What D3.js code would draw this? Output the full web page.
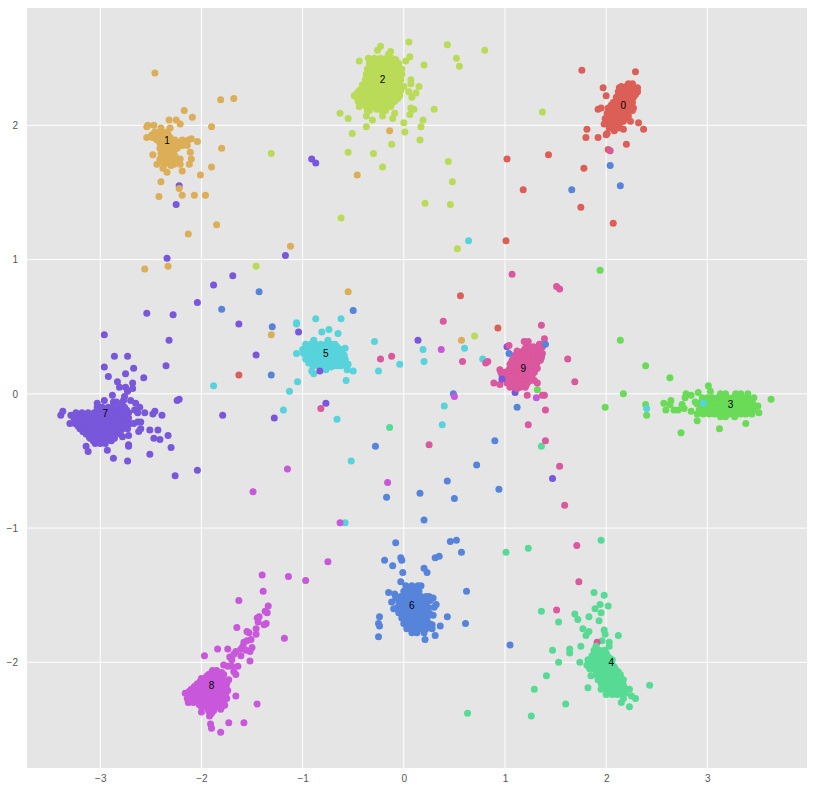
<!DOCTYPE html>
<html><head><meta charset="utf-8">
<script src="https://cdn.jsdelivr.net/npm/d3@7"></script>
<style>html,body{margin:0;padding:0;background:#fff;overflow:hidden}svg{display:block}</style>
</head><body><div id="chart"></div>
<script>
const palette=["#db5f57","#dbae57","#b9db57","#69db57","#57db94","#57d3db","#5784db","#7957db","#c957db","#db579e"];
const xTicks=[-3,-2,-1,0,1,2,3];
const yTicks=[-2,-1,0,1,2];
const labelNames=["0","1","2","3","4","5","6","7","8","9"];
const labelX=[2.17,-2.34,-0.21,3.23,2.05,-0.77,0.08,-2.95,-1.90,1.18];
const labelY=[2.15,1.89,2.34,-0.08,-2.0,0.30,-1.58,-0.15,-2.17,0.19];

const digit0=[[1.76,2.41],[2.29,2.40],[1.97,2.28],[2.00,2.22],[1.92,2.12],[1.95,2.13],[2.32,2.02],[2.24,2.03],[2.17,1.97],[2.37,1.97],[1.81,1.97],[1.80,1.91],[1.92,1.91],[2.00,1.93],[2.01,1.94],[2.08,1.96],[2.20,1.86],[2.02,1.82],[1.43,1.78],[1.78,1.68],[1.75,1.39],[2.07,1.27],[1.02,1.75],[1.18,1.52],[1.01,1.14],[0.56,0.73],[0.93,0.49],[-1.63,0.14],
[2.22,2.31],[2.26,2.31],[2.13,2.28],[2.18,2.28],[2.23,2.28],[2.28,2.28],[2.31,2.28],[2.12,2.25],[2.17,2.25],[2.22,2.25],[2.27,2.25],[2.31,2.25],[2.10,2.21],[2.15,2.21],[2.20,2.21],[2.25,2.21],[2.27,2.21],[2.07,2.17],[2.12,2.17],[2.17,2.17],[2.22,2.17],[2.26,2.17],[2.02,2.13],[2.07,2.13],[2.12,2.13],[2.17,2.13],[2.22,2.13],[2.27,2.13],[2.01,2.09],[2.06,2.09],[2.11,2.09],[2.16,2.09],[2.21,2.09],[2.26,2.11],[1.99,2.05],[2.04,2.05],[2.09,2.05],[2.14,2.05],[2.19,2.05],[1.98,2.01],[2.03,2.01],[2.08,2.01],[2.13,2.01],[2.17,2.03],[2.03,1.98],[2.08,1.98],[2.12,1.98],
[2.15,2.29],[2.20,2.29],[2.25,2.29],[2.14,2.23],[2.19,2.23],[2.24,2.23],[2.29,2.23],[2.12,2.19],[2.17,2.19],[2.22,2.19],[2.25,2.19],[2.05,2.15],[2.10,2.15],[2.15,2.15],[2.20,2.15],[2.25,2.15],[2.03,2.11],[2.08,2.11],[2.13,2.11],[2.18,2.11],[2.23,2.11],[2.02,2.07],[2.07,2.07],[2.12,2.07],[2.17,2.07],[2.22,2.07],[2.01,2.03],[2.06,2.03],[2.11,2.03],[2.15,2.03],[2.05,1.99],[2.10,1.99]];

const digit1=[[-2.46,2.39],[-1.81,2.19],[-1.68,2.20],[-2.17,2.11],[-2.09,2.06],[-2.32,2.04],[-2.25,2.04],[-2.21,2.01],[-1.90,1.99],[-1.80,1.83],[-2.04,1.88],[-2.10,1.90],[-2.11,1.80],[-2.10,1.75],[-2.12,1.71],[-1.90,1.69],[-2.01,1.63],[-2.19,1.66],[-2.40,1.58],[-2.19,1.48],[-2.07,1.48],[-1.96,1.48],[-2.42,1.47],[-1.85,1.26],[-2.13,1.19],[-2.56,0.93],[-2.33,0.95],[-0.14,1.96],[-0.46,1.63],[-1.12,1.10],[-0.55,0.76],[-1.31,0.44],[0.57,0.40],
[-2.54,1.99],[-2.53,2.0],[-2.47,2.0],[-2.54,1.91],[-2.49,1.93],[-2.40,1.98],[-2.31,1.98],[-2.48,1.78],[-2.41,1.75],[-2.44,1.71],[-2.38,1.68],[-2.34,1.65],[-2.30,1.70],[-2.21,1.71],[-2.21,1.75],[-2.19,1.89],[-2.14,1.85],
[-2.46,1.95],[-2.40,1.95],[-2.34,1.95],[-2.48,1.91],[-2.43,1.91],[-2.37,1.91],[-2.31,1.91],[-2.41,1.87],[-2.35,1.87],[-2.29,1.87],[-2.24,1.87],[-2.41,1.83],[-2.36,1.83],[-2.30,1.83],[-2.24,1.83],[-2.40,1.79],[-2.34,1.79],[-2.28,1.79],[-2.36,1.75],[-2.30,1.75],[-2.25,1.75],[-2.37,1.71],[-2.31,1.71],[-2.27,1.71],[-2.19,1.85],[-2.15,1.87],[-2.13,1.89],
[-2.45,1.93],[-2.39,1.93],[-2.33,1.93],[-2.44,1.89],[-2.38,1.89],[-2.32,1.89],[-2.26,1.89],[-2.40,1.85],[-2.34,1.85],[-2.28,1.85],[-2.22,1.85],[-2.39,1.81],[-2.33,1.81],[-2.27,1.81],[-2.38,1.77],[-2.32,1.77],[-2.26,1.77],[-2.39,1.73],[-2.33,1.73],[-2.27,1.73],[-2.23,1.73]];

const digit2=[[-0.23,2.59],[-0.26,2.56],[0.05,2.62],[0.43,2.60],[0.52,2.50],[0.55,2.44],[0.80,2.56],[0.20,2.45],[0.06,2.51],[0.02,2.48],[-0.44,2.48],[0.07,2.34],[0.07,2.31],[0.15,2.29],[0.12,2.24],[0.08,2.21],[0.05,2.25],[0,2.29],[0.30,2.12],[0.10,2.12],[0.07,2.13],[0.06,2.08],[0.19,2.04],[0,2.02],[0.17,1.99],[0.01,1.95],[0.16,1.89],[-0.12,1.86],[-0.11,2.05],[-0.09,2.09],[-0.21,2.07],[-0.31,2.04],[-0.37,2.07],[-0.37,1.99],[-0.55,2.05],[-0.63,2.09],[-0.51,1.94],[-0.55,1.80],[-0.30,1.79],[-0.21,1.69],[0.44,1.73],[0.48,1.58],[0.21,1.42],[0.46,1.41],[-0.62,1.31],[0.53,1.08],[-1.46,0.95],[-1.31,1.79],[1.37,2.10],[0.70,0.43],
[-0.13,2.55],[-0.15,2.53],[-0.35,2.50],[-0.29,2.50],[-0.23,2.50],[-0.17,2.50],[-0.12,2.50],[-0.08,2.49],[-0.34,2.46],[-0.28,2.46],[-0.22,2.46],[-0.16,2.46],[-0.10,2.46],[-0.05,2.46],[-0.36,2.42],[-0.30,2.42],[-0.24,2.42],[-0.18,2.42],[-0.12,2.42],[-0.06,2.42],[-0.02,2.42],[-0.37,2.38],[-0.31,2.38],[-0.25,2.38],[-0.19,2.38],[-0.13,2.38],[-0.07,2.38],[-0.02,2.38],[-0.38,2.34],[-0.32,2.34],[-0.26,2.34],[-0.20,2.34],[-0.14,2.34],[-0.08,2.34],[-0.03,2.34],[-0.41,2.30],[-0.35,2.30],[-0.29,2.30],[-0.23,2.30],[-0.17,2.30],[-0.11,2.30],[-0.05,2.30],[-0.44,2.26],[-0.38,2.26],[-0.32,2.26],[-0.26,2.26],[-0.20,2.26],[-0.14,2.26],[-0.08,2.26],[-0.03,2.26],[-0.49,2.22],[-0.43,2.22],[-0.37,2.22],[-0.31,2.22],[-0.25,2.22],[-0.19,2.22],[-0.13,2.22],[-0.07,2.22],[-0.04,2.22],[-0.45,2.18],[-0.39,2.18],[-0.33,2.18],[-0.27,2.18],[-0.21,2.18],[-0.15,2.18],[-0.09,2.18],[-0.44,2.14],[-0.37,2.14],[-0.31,2.14],[-0.25,2.14],[-0.19,2.14],[-0.13,2.14],[-0.36,2.11],[-0.34,2.11],[-0.27,2.12],[-0.22,2.11],[-0.18,2.11],
[-0.32,2.48],[-0.26,2.48],[-0.20,2.48],[-0.14,2.48],[-0.08,2.48],[-0.33,2.44],[-0.25,2.44],[-0.19,2.44],[-0.13,2.44],[-0.07,2.44],[-0.34,2.40],[-0.28,2.40],[-0.22,2.40],[-0.16,2.40],[-0.10,2.40],[-0.04,2.40],[-0.35,2.36],[-0.29,2.36],[-0.23,2.36],[-0.17,2.36],[-0.11,2.36],[-0.05,2.36],[-0.38,2.32],[-0.32,2.32],[-0.26,2.32],[-0.20,2.32],[-0.14,2.32],[-0.08,2.32],[-0.41,2.28],[-0.35,2.28],[-0.29,2.28],[-0.23,2.28],[-0.17,2.28],[-0.11,2.28],[-0.05,2.28],[-0.46,2.24],[-0.40,2.24],[-0.34,2.24],[-0.28,2.24],[-0.22,2.24],[-0.16,2.24],[-0.10,2.24],[-0.05,2.24],[-0.46,2.20],[-0.40,2.20],[-0.34,2.20],[-0.28,2.20],[-0.22,2.20],[-0.16,2.20],[-0.10,2.20],[-0.06,2.20],[-0.42,2.16],[-0.36,2.16],[-0.30,2.16],[-0.24,2.16],[-0.18,2.16],[-0.12,2.16]];

const digit3=[[1.94,0.92],[2.14,0.40],[2.39,0.21],[2.63,0.12],[2.17,0.0],[1.99,-0.10],[2.39,-0.08],[2.40,-0.16],[2.74,-0.29],[2.90,-0.20],[3.12,-0.26],[3.38,-0.22],[3.63,-0.04],[3.51,-0.14],[3.50,-0.09],[3.46,-0.03],[3.01,0.06],[3.03,0.02],[2.91,0.01],[2.79,0.0],[2.84,-0.01],[2.57,-0.07],[2.64,-0.05],[2.63,-0.08],[2.59,-0.12],[2.67,-0.12],[2.71,-0.12],[2.77,-0.11],[2.75,-0.08],[2.78,-0.03],[2.84,-0.13],[1.32,0.03],
[3.13,0.0],[3.18,0.0],[3.28,0.0],[3.33,0.0],[3.40,0.0],[2.95,-0.03],[3.0,-0.03],[3.05,-0.03],[3.10,-0.03],[3.15,-0.03],[3.20,-0.03],[3.25,-0.03],[3.30,-0.03],[3.35,-0.03],[3.40,-0.03],[2.88,-0.06],[2.94,-0.06],[2.99,-0.06],[3.04,-0.06],[3.09,-0.06],[3.14,-0.06],[3.19,-0.06],[3.24,-0.06],[3.29,-0.06],[3.34,-0.06],[3.39,-0.06],[3.44,-0.06],[2.93,-0.09],[2.98,-0.09],[3.03,-0.09],[3.08,-0.09],[3.13,-0.09],[3.18,-0.09],[3.23,-0.09],[3.28,-0.09],[3.33,-0.09],[3.38,-0.09],[3.43,-0.09],[3.47,-0.09],[2.92,-0.12],[2.97,-0.12],[3.02,-0.12],[3.07,-0.12],[3.12,-0.12],[3.17,-0.12],[3.22,-0.12],[3.27,-0.12],[3.32,-0.12],[3.37,-0.12],[3.42,-0.12],[3.46,-0.12],[2.90,-0.15],[2.96,-0.15],[3.02,-0.15],[3.07,-0.15],[3.13,-0.15],[3.18,-0.15],[3.23,-0.15],[3.28,-0.15],[3.33,-0.15],[3.38,-0.15],[3.44,-0.15],[3.13,-0.17],[3.18,-0.17],[3.27,-0.17],
[2.97,-0.045],[3.02,-0.045],[3.07,-0.045],[3.12,-0.045],[3.17,-0.045],[3.22,-0.045],[3.27,-0.045],[3.32,-0.045],[3.37,-0.045],[3.42,-0.045],[2.90,-0.075],[2.95,-0.075],[3.0,-0.075],[3.05,-0.075],[3.10,-0.075],[3.15,-0.075],[3.20,-0.075],[3.25,-0.075],[3.30,-0.075],[3.35,-0.075],[3.40,-0.075],[3.45,-0.075],[2.95,-0.105],[3.0,-0.105],[3.05,-0.105],[3.10,-0.105],[3.15,-0.105],[3.20,-0.105],[3.25,-0.105],[3.30,-0.105],[3.35,-0.105],[3.40,-0.105],[3.45,-0.105],[2.94,-0.135],[2.99,-0.135],[3.04,-0.135],[3.09,-0.135],[3.14,-0.135],[3.19,-0.135],[3.24,-0.135],[3.29,-0.135],[3.34,-0.135],[3.39,-0.135],[3.44,-0.135]];

const digit4=[[1.95,-1.09],[1.23,-1.15],[1.01,-1.18],[1.88,-1.48],[1.98,-1.50],[1.94,-1.57],[2.02,-1.58],[1.89,-1.60],[1.95,-1.63],[1.36,-1.62],[1.69,-1.64],[1.72,-1.68],[1.83,-1.66],[1.93,-1.69],[1.53,-1.70],[1.77,-1.75],[1.83,-1.77],[1.80,-1.80],[1.98,-1.76],[1.99,-1.79],[2.12,-1.80],[1.96,-1.84],[2.03,-1.85],[2.03,-1.88],[1.75,-1.88],[1.47,-1.91],[1.64,-1.90],[1.64,-1.93],[1.53,-2.00],[1.74,-2.0],[1.41,-2.10],[1.85,-2.10],[1.82,-2.19],[1.29,-2.20],[1.60,-2.31],[1.26,-2.40],[0.63,-2.38],[2.43,-2.17],[2.23,-2.33],[2.15,-2.30],[2.17,-2.27],[2.25,-2.25],[2.29,-2.27],[2.0,-2.24],[2.06,-2.24],[2.11,-2.24],[2.23,-2.20],[1.36,-0.39],[-0.14,-0.25],
[1.88,-1.91],[1.93,-1.91],[1.98,-1.91],[1.86,-1.95],[1.91,-1.95],[1.96,-1.95],[2.01,-1.95],[1.82,-1.98],[1.87,-1.98],[1.92,-1.98],[1.97,-1.98],[2.02,-1.98],[2.06,-1.98],[1.81,-2.02],[1.86,-2.02],[1.91,-2.02],[1.96,-2.02],[2.01,-2.02],[2.06,-2.02],[1.84,-2.05],[1.89,-2.05],[1.94,-2.05],[1.99,-2.05],[2.04,-2.05],[2.09,-2.05],[1.90,-2.09],[1.95,-2.09],[2.00,-2.09],[2.05,-2.09],[2.10,-2.09],[2.14,-2.09],[1.92,-2.13],[1.97,-2.13],[2.02,-2.13],[2.07,-2.13],[2.12,-2.13],[2.17,-2.13],[1.95,-2.16],[2.0,-2.16],[2.05,-2.16],[2.10,-2.16],[2.15,-2.16],[2.17,-2.17],[1.95,-2.20],[2.0,-2.20],[2.05,-2.20],[2.10,-2.20],[2.15,-2.20],[2.21,-2.20],[2.1,-2.23],[2.15,-2.23],[2.19,-2.23],
[1.90,-1.93],[1.95,-1.93],[2.0,-1.93],[1.88,-1.965],[1.93,-1.965],[1.98,-1.965],[2.03,-1.965],[1.84,-2.0],[1.89,-2.0],[1.94,-2.0],[1.99,-2.0],[2.04,-2.0],[1.83,-2.035],[1.88,-2.035],[1.93,-2.035],[1.98,-2.035],[2.03,-2.035],[2.08,-2.035],[1.92,-2.07],[1.97,-2.07],[2.02,-2.07],[2.07,-2.07],[2.12,-2.07],[1.94,-2.11],[1.99,-2.11],[2.04,-2.11],[2.09,-2.11],[2.14,-2.11],[1.97,-2.145],[2.02,-2.145],[2.07,-2.145],[2.12,-2.145],[2.16,-2.145],[1.97,-2.18],[2.02,-2.18],[2.07,-2.18],[2.12,-2.18],[2.17,-2.18],[2.07,-2.215],[2.12,-2.215],[2.17,-2.215]];

const digit5=[[-1.06,0.53],[-1.06,0.52],[-0.87,0.56],[-0.62,0.56],[-0.81,0.46],[-0.74,0.48],[-0.65,0.45],[-0.58,0.34],[-0.29,0.39],[0.19,0.33],[0.60,0.34],[0.20,0.24],[-0.04,0.22],[-0.25,0.17],[-0.50,0.17],[-0.56,0.18],[-0.57,0.10],[-0.77,0.18],[-0.91,0.17],[-0.89,0.15],[-1.05,0.09],[-1.13,0.02],[-1.19,-0.12],[-0.66,-0.19],[0.40,-0.09],[0.38,-0.23],[-0.52,-0.50],[-0.58,-0.96],[0.78,0.26],[-1.88,0.06],[0.64,1.14],[2.40,-0.11],[2.96,-0.07],[0.0,-1.52],
[-0.89,0.40],[-0.75,0.40],[-0.97,0.37],[-0.92,0.37],[-0.87,0.37],[-0.82,0.37],[-0.77,0.37],[-0.72,0.37],[-0.68,0.37],[-1.00,0.33],[-0.95,0.33],[-0.90,0.33],[-0.85,0.33],[-0.80,0.33],[-0.75,0.33],[-0.70,0.33],[-0.65,0.33],[-0.62,0.33],[-1.06,0.30],[-0.99,0.30],[-0.94,0.30],[-0.89,0.30],[-0.84,0.30],[-0.79,0.30],[-0.74,0.30],[-0.69,0.30],[-0.64,0.30],[-0.59,0.29],[-0.97,0.26],[-0.92,0.26],[-0.87,0.26],[-0.82,0.26],[-0.77,0.26],[-0.72,0.26],[-0.67,0.26],[-0.62,0.26],[-0.58,0.26],[-0.94,0.23],[-0.89,0.23],[-0.84,0.23],[-0.79,0.23],[-0.74,0.23],[-0.69,0.23],[-0.64,0.23],[-0.59,0.23],[-0.55,0.22],[-0.90,0.21],[-0.85,0.21],[-0.79,0.21],[-0.74,0.21],[-0.69,0.21],[-0.65,0.21],[-0.62,0.21],[-0.56,0.21],[-0.77,0.20],[-0.72,0.20],
[-0.95,0.35],[-0.90,0.35],[-0.85,0.35],[-0.80,0.35],[-0.75,0.35],[-0.70,0.35],[-0.66,0.35],[-0.97,0.315],[-0.92,0.315],[-0.87,0.315],[-0.82,0.315],[-0.77,0.315],[-0.72,0.315],[-0.67,0.315],[-0.62,0.315],[-0.95,0.28],[-0.90,0.28],[-0.85,0.28],[-0.80,0.28],[-0.75,0.28],[-0.70,0.28],[-0.65,0.28],[-0.60,0.28],[-0.92,0.245],[-0.87,0.245],[-0.82,0.245],[-0.77,0.245],[-0.72,0.245],[-0.67,0.245],[-0.62,0.245],[-0.58,0.245]];

const digit6=[[-0.08,-1.11],[0.46,-1.10],[0.52,-1.09],[0.57,-1.18],[0.31,-1.22],[0.35,-1.21],[-0.19,-1.24],[-0.11,-1.28],[-0.03,-1.22],[-0.02,-1.24],[0.20,-1.30],[0.23,-1.33],[-0.01,-1.33],[-0.03,-1.40],[0.62,-1.47],[-0.15,-1.48],[-0.09,-1.49],[-0.08,-1.52],[-0.12,-1.55],[-0.10,-1.60],[-0.24,-1.66],[-0.25,-1.71],[-0.24,-1.73],[-0.25,-1.81],[0.43,-1.66],[0.36,-1.73],[0.61,-1.71],[0.21,-1.83],[0.31,-1.80],[0.28,-1.75],[0.28,-1.72],[0.29,-1.65],[0.32,-1.57],[0.30,-1.59],[0.29,-1.52],[0.25,-1.51],[0.26,-1.54],[0.17,-1.43],[1.05,-1.87],[2.04,1.70],[2.14,1.55],[1.66,1.52],[1.36,0.27],[1.12,-0.10],[-0.50,0.62],[-1.30,0.50],[-1.31,0.14],[-0.28,-0.39],[0.49,0],[0.90,-0.35],[0.72,-0.53],[0.43,-0.65],[0.94,-0.71],[0.16,-0.74],[0.50,-0.78],[-0.17,-0.77],[0.20,-0.94],[-1.43,0.76],[-1.80,0.63],
[0.02,-1.43],[0.08,-1.43],[0.14,-1.43],[0.0,-1.47],[0.05,-1.47],[0.10,-1.47],[0.15,-1.47],[-0.03,-1.51],[0.02,-1.51],[0.07,-1.51],[0.12,-1.51],[0.17,-1.51],[0.22,-1.51],[-0.05,-1.55],[0,-1.55],[0.05,-1.55],[0.10,-1.55],[0.15,-1.55],[0.20,-1.55],[-0.06,-1.59],[-0.01,-1.59],[0.04,-1.59],[0.09,-1.59],[0.14,-1.59],[0.19,-1.59],[0.24,-1.59],[-0.05,-1.63],[0,-1.63],[0.05,-1.63],[0.10,-1.63],[0.15,-1.63],[0.20,-1.63],[0.25,-1.63],[-0.02,-1.67],[0.03,-1.67],[0.08,-1.67],[0.13,-1.67],[0.18,-1.67],[0.23,-1.67],[0,-1.71],[0.05,-1.71],[0.10,-1.71],[0.15,-1.71],[0.20,-1.71],[0.25,-1.71],[0.03,-1.75],[0.08,-1.75],[0.13,-1.75],[0.18,-1.75],[0.22,-1.75],[0.08,-1.78],[0.13,-1.78],[0.2,-1.78],
[0.03,-1.45],[0.08,-1.45],[0.13,-1.45],[0.03,-1.49],[0.08,-1.49],[0.13,-1.49],[0,-1.53],[0.05,-1.53],[0.10,-1.53],[0.15,-1.53],[0.20,-1.53],[-0.03,-1.57],[0.02,-1.57],[0.07,-1.57],[0.12,-1.57],[0.17,-1.57],[0.22,-1.57],[-0.03,-1.61],[0.02,-1.61],[0.07,-1.61],[0.12,-1.61],[0.17,-1.61],[0.22,-1.61],[0,-1.65],[0.03,-1.65],[0.08,-1.65],[0.13,-1.65],[0.18,-1.65],[0.23,-1.65],[0.01,-1.69],[0.06,-1.69],[0.11,-1.69],[0.16,-1.69],[0.21,-1.69],[0.03,-1.73],[0.08,-1.73],[0.13,-1.73],[0.18,-1.73],[0.23,-1.73]];

const digit7=[[-2.96,0.44],[-2.86,0.28],[-2.73,0.28],[-2.96,0.20],[-2.67,0.19],[-2.75,0.15],[-2.92,0.13],[-2.57,0.12],[-2.83,0.09],[-2.81,0.05],[-2.75,0.05],[-2.68,0.08],[-2.68,0.04],[-2.73,0.02],[-2.88,-0.01],[-2.76,-0.02],[-2.77,-0.05],[-2.96,-0.05],[-2.87,-0.06],[-3.03,-0.07],[-2.70,-0.05],[-2.65,-0.07],[-2.61,-0.10],[-2.66,-0.12],[-2.63,-0.14],[-2.56,-0.14],[-2.46,-0.13],[-2.48,-0.15],[-2.39,-0.16],[-2.60,-0.21],[-2.63,-0.21],[-2.67,-0.22],[-2.60,-0.26],[-2.62,-0.28],[-2.51,-0.27],[-2.43,-0.27],[-2.33,-0.31],[-2.47,-0.33],[-2.41,-0.34],[-2.72,-0.31],[-2.78,-0.32],[-2.72,-0.38],[-2.72,-0.39],[-2.30,-0.40],[-2.51,-0.45],[-2.93,-0.42],[-3.14,-0.39],[-3.12,-0.43],[-2.87,-0.48],[-2.73,-0.50],[-2.26,-0.61],[-2.04,-0.57],[-3.39,-0.16],[-3.37,-0.13],[-3.29,-0.16],[-3.30,-0.22],[-3.17,-0.28],[-2.24,-0.05],[-2.22,-0.04],[-1.79,-0.16],[-2.35,0.21],[-2.54,0.60],[-2.28,0.59],[-2.32,0.40],[-2.04,0.68],[-1.88,0.81],[-1.69,0.88],[-1.63,0.52],[-1.46,0.29],[-2.22,1.55],[-2.25,1.41],[-2.34,1.01],[-0.91,1.75],[-0.87,1.72],[-1.17,1.03],[-1.04,0.46],[-0.83,0.17],[0.14,0.40],[-0.77,-0.07],[-1.28,-0.18],[1.02,0.35],[1.10,0.01],[1.47,-0.63],
[-2.84,-0.06],[-2.79,-0.07],[-3.03,-0.10],[-2.98,-0.10],[-2.92,-0.10],[-2.87,-0.10],[-2.81,-0.10],[-2.76,-0.10],[-3.24,-0.14],[-3.18,-0.14],[-3.12,-0.14],[-3.06,-0.14],[-3.00,-0.14],[-2.94,-0.14],[-2.88,-0.14],[-2.82,-0.14],[-2.76,-0.14],[-2.72,-0.14],[-3.26,-0.18],[-3.20,-0.18],[-3.14,-0.18],[-3.08,-0.18],[-3.02,-0.18],[-2.96,-0.18],[-2.90,-0.18],[-2.84,-0.18],[-2.78,-0.18],[-2.72,-0.18],[-3.25,-0.22],[-3.19,-0.22],[-3.13,-0.22],[-3.07,-0.22],[-3.01,-0.22],[-2.95,-0.22],[-2.89,-0.22],[-2.83,-0.22],[-2.77,-0.22],[-2.71,-0.22],[-3.20,-0.26],[-3.14,-0.26],[-3.08,-0.26],[-3.02,-0.26],[-2.96,-0.26],[-2.90,-0.26],[-2.84,-0.26],[-2.78,-0.26],[-2.73,-0.26],[-3.14,-0.30],[-3.08,-0.30],[-3.02,-0.30],[-2.96,-0.30],[-2.90,-0.30],[-2.84,-0.30],[-2.80,-0.30],[-3.10,-0.33],[-3.04,-0.33],[-2.98,-0.33],[-2.92,-0.33],[-2.86,-0.33],[-3.05,-0.37],[-3.0,-0.37],[-2.95,-0.37],
[-3.03,-0.12],[-2.97,-0.12],[-2.91,-0.12],[-2.85,-0.12],[-2.79,-0.12],[-2.74,-0.12],[-3.23,-0.16],[-3.17,-0.16],[-3.11,-0.16],[-3.05,-0.16],[-2.99,-0.16],[-2.93,-0.16],[-2.87,-0.16],[-2.81,-0.16],[-2.75,-0.16],[-3.24,-0.20],[-3.17,-0.20],[-3.11,-0.20],[-3.05,-0.20],[-2.99,-0.20],[-2.93,-0.20],[-2.87,-0.20],[-2.81,-0.20],[-2.75,-0.20],[-3.22,-0.24],[-3.16,-0.24],[-3.10,-0.24],[-3.04,-0.24],[-2.98,-0.24],[-2.92,-0.24],[-2.86,-0.24],[-2.80,-0.24],[-2.75,-0.24],[-3.17,-0.28],[-3.11,-0.28],[-3.05,-0.28],[-2.99,-0.28],[-2.93,-0.28],[-2.87,-0.28],[-2.81,-0.28],[-3.11,-0.32],[-3.05,-0.32],[-2.99,-0.32],[-2.93,-0.32],[-2.87,-0.32],[-3.07,-0.35],[-3.01,-0.35],[-2.95,-0.35],[-2.89,-0.35]];

const digit8=[[-0.75,-1.25],[-1.14,-1.36],[-0.97,-1.39],[-1.40,-1.35],[-1.39,-1.47],[-1.63,-1.54],[-1.34,-1.58],[-1.37,-1.62],[-1.35,-1.63],[-1.43,-1.66],[-1.45,-1.67],[-1.44,-1.70],[-1.36,-1.71],[-1.38,-1.72],[-1.65,-1.74],[-1.46,-1.75],[-1.46,-1.79],[-1.55,-1.77],[-1.53,-1.78],[-1.18,-1.82],[-1.51,-1.83],[-1.55,-1.84],[-1.58,-1.85],[-1.59,-1.88],[-1.61,-1.90],[-1.50,-1.89],[-1.52,-1.92],[-1.56,-1.91],[-1.84,-1.90],[-1.74,-1.90],[-1.97,-1.95],[-1.66,-1.92],[-1.68,-1.94],[-1.61,-1.95],[-1.72,-1.96],[-1.52,-1.99],[-1.70,-1.98],[-1.64,-2.03],[-1.78,-2.02],[-1.74,-2.03],[-1.70,-2.03],[-1.66,-2.09],[-1.68,-2.07],[-1.73,-2.13],[-1.74,-2.21],[-1.66,-2.25],[-1.45,-2.31],[-1.77,-2.32],[-1.81,-2.35],[-2.0,-2.37],[-1.92,-2.40],[-1.90,-2.38],[-1.91,-2.46],[-1.90,-2.49],[-1.73,-2.45],[-1.58,-2.45],[-1.81,-2.52],[-1.15,-0.56],[-0.16,-0.66],[0.50,-0.02],[0.37,0.33],[-0.63,-0.96],[1.31,-0.03],[-1.49,-0.73],
[-1.89,-2.06],[-1.85,-2.06],[-1.93,-2.09],[-1.88,-2.09],[-1.83,-2.09],[-1.78,-2.09],[-2.0,-2.12],[-1.95,-2.12],[-1.90,-2.12],[-1.85,-2.12],[-1.80,-2.12],[-2.04,-2.16],[-1.99,-2.16],[-1.94,-2.16],[-1.89,-2.16],[-1.84,-2.16],[-1.79,-2.16],[-1.75,-2.16],[-2.10,-2.20],[-2.05,-2.20],[-2.0,-2.20],[-1.95,-2.20],[-1.90,-2.20],[-1.85,-2.20],[-1.80,-2.20],[-1.75,-2.20],[-2.16,-2.23],[-2.11,-2.23],[-2.06,-2.23],[-2.01,-2.23],[-1.96,-2.23],[-1.91,-2.23],[-1.86,-2.23],[-1.81,-2.23],[-1.76,-2.23],[-2.14,-2.27],[-2.09,-2.27],[-2.04,-2.27],[-1.99,-2.27],[-1.94,-2.27],[-1.89,-2.27],[-1.84,-2.27],[-1.79,-2.27],[-1.75,-2.27],[-2.13,-2.30],[-2.08,-2.30],[-2.03,-2.30],[-1.98,-2.30],[-1.93,-2.30],[-1.88,-2.30],[-1.83,-2.30],[-1.78,-2.30],[-2.0,-2.33],[-1.95,-2.33],[-1.90,-2.33],[-1.85,-2.33],[-1.80,-2.33],[-1.93,-2.36],[-1.88,-2.36],
[-1.90,-2.075],[-1.85,-2.075],[-1.80,-2.075],[-1.95,-2.105],[-1.90,-2.105],[-1.85,-2.105],[-1.80,-2.105],[-2.01,-2.14],[-1.96,-2.14],[-1.91,-2.14],[-1.86,-2.14],[-1.81,-2.14],[-1.77,-2.14],[-2.07,-2.18],[-2.02,-2.18],[-1.97,-2.18],[-1.92,-2.18],[-1.87,-2.18],[-1.82,-2.18],[-1.77,-2.18],[-2.12,-2.215],[-2.07,-2.215],[-2.02,-2.215],[-1.97,-2.215],[-1.92,-2.215],[-1.87,-2.215],[-1.82,-2.215],[-1.77,-2.215],[-2.12,-2.25],[-2.07,-2.25],[-2.02,-2.25],[-1.97,-2.25],[-1.92,-2.25],[-1.87,-2.25],[-1.82,-2.25],[-1.77,-2.25],[-2.11,-2.285],[-2.06,-2.285],[-2.01,-2.285],[-1.96,-2.285],[-1.91,-2.285],[-1.86,-2.285],[-1.81,-2.285],[-2.02,-2.315],[-1.97,-2.315],[-1.92,-2.315],[-1.87,-2.315],[-1.82,-2.315]];

const digit9=[[1.07,0.89],[0.39,0.54],[-0.23,0.26],[-0.12,0.28],[0.58,0.24],[0.81,0.23],[0.83,0.24],[0.89,0.08],[0.95,0.07],[1.22,-0.01],[1.23,-0.23],[-0.82,-0.11],[0.25,-0.38],[2.04,1.81],[1.51,0.80],[1.54,0.78],[1.36,0.51],[1.39,0.41],[1.62,0.26],[1.37,0.30],[1.69,0.09],[1.39,-0.01],[1.37,-0.01],[1.40,-0.12],[1.40,-0.35],[1.54,-0.54],[1.59,-0.83],[1.71,-1.13],[1.73,-1.40],[1.51,-1.61],[1.91,-1.85],[1.04,0.36],[1.32,0.08],[1.29,0.10],[1.32,0.19],
[1.19,0.39],[1.23,0.39],[1.22,0.37],[1.34,0.37],[1.38,0.37],[1.22,0.35],[1.28,0.35],[1.33,0.35],[1.37,0.35],[1.12,0.32],[1.18,0.32],[1.23,0.32],[1.28,0.32],[1.33,0.32],[1.10,0.29],[1.15,0.29],[1.20,0.29],[1.25,0.29],[1.30,0.29],[1.35,0.29],[1.07,0.25],[1.12,0.25],[1.17,0.25],[1.22,0.25],[1.27,0.25],[1.32,0.25],[1.35,0.25],[1.05,0.22],[1.10,0.22],[1.15,0.22],[1.20,0.22],[1.25,0.22],[1.30,0.22],[1.04,0.18],[1.09,0.18],[1.14,0.18],[1.19,0.18],[1.24,0.18],[1.29,0.18],[0.95,0.18],[0.96,0.16],[0.97,0.14],[1.02,0.14],[1.07,0.14],[1.12,0.14],[1.17,0.14],[1.22,0.14],[1.27,0.14],[1.0,0.11],[1.05,0.11],[1.10,0.11],[1.15,0.11],[1.20,0.11],[1.25,0.11],[1.02,0.08],[1.07,0.08],[1.12,0.08],[1.17,0.08],[1.22,0.08],[1.05,0.05],[1.10,0.05],[1.15,0.05],[1.20,0.05],[1.12,0.04],
[1.20,0.34],[1.25,0.34],[1.30,0.34],[1.35,0.34],[1.14,0.305],[1.19,0.305],[1.24,0.305],[1.29,0.305],[1.34,0.305],[1.09,0.27],[1.14,0.27],[1.19,0.27],[1.24,0.27],[1.29,0.27],[1.34,0.27],[1.07,0.235],[1.12,0.235],[1.17,0.235],[1.22,0.235],[1.27,0.235],[1.32,0.235],[1.06,0.20],[1.11,0.20],[1.16,0.20],[1.21,0.20],[1.26,0.20],[1.30,0.20],[1.0,0.16],[1.05,0.16],[1.10,0.16],[1.15,0.16],[1.20,0.16],[1.25,0.16],[1.29,0.16],[1.02,0.125],[1.07,0.125],[1.12,0.125],[1.17,0.125],[1.22,0.125],[1.26,0.125],[1.04,0.095],[1.09,0.095],[1.14,0.095],[1.19,0.095],[1.24,0.095],[1.07,0.065],[1.12,0.065],[1.17,0.065],[1.21,0.065]];

const series=[digit0,digit1,digit2,digit3,digit4,digit5,digit6,digit7,digit8,digit9];
// points of earlier series that sit on top of later ones in the reference
const lateDigit=[6,6,7,1,4];
const lateX=[1.40,1.04,0.97,-2.22,1.90];
const lateY=[0.37,0.30,0.11,1.53,-1.88];

const W=814,H=791,mL=27,mR=807,mT=8,mB=768;
const x=d3.scaleLinear().domain([-3.724,3.985]).range([mL,mR]);
const y=d3.scaleLinear().domain([-2.787,2.874]).range([mB,mT]);
const svg=d3.select("#chart").append("svg").attr("width",W).attr("height",H);
svg.append("rect").attr("x",mL).attr("y",mT).attr("width",mR-mL).attr("height",mB-mT).attr("fill","#e5e5e5");
const g=svg.append("g");
g.selectAll("line.gx").data(xTicks).join("line").attr("class","gx").attr("x1",d=>x(d)).attr("x2",d=>x(d)).attr("y1",mT).attr("y2",mB).attr("stroke","#fff").attr("stroke-width",1);
g.selectAll("line.gy").data(yTicks).join("line").attr("class","gy").attr("y1",d=>y(d)).attr("y2",d=>y(d)).attr("x1",mL).attr("x2",mR).attr("stroke","#fff").attr("stroke-width",1);
const fmt=d=>String(d).replace("-","\u2212");
const ax=svg.append("g").attr("transform",`translate(0,${mB})`).call(d3.axisBottom(x).tickValues(xTicks).tickFormat(fmt).tickSize(0).tickPadding(7));
const ay=svg.append("g").attr("transform",`translate(${mL},0)`).call(d3.axisLeft(y).tickValues(yTicks).tickFormat(fmt).tickSize(0).tickPadding(9));
[ax,ay].forEach(a=>{a.select(".domain").remove();a.selectAll("text").attr("fill","#555555").style("font-family","'Liberation Sans',Arial,sans-serif").style("font-size","10px");});
const pts=svg.append("g");
series.forEach((s,i)=>{
  pts.append("g").selectAll("circle").data(s).join("circle").attr("cx",d=>x(d[0])).attr("cy",d=>y(d[1])).attr("r",3.5).attr("fill",palette[i]);
});
pts.append("g").selectAll("circle").data(lateDigit).join("circle").attr("cx",(d,i)=>x(lateX[i])).attr("cy",(d,i)=>y(lateY[i])).attr("r",3.5).attr("fill",d=>palette[d]);
svg.append("g").selectAll("text").data(labelNames).join("text").attr("x",(d,i)=>x(labelX[i])).attr("y",(d,i)=>y(labelY[i])).attr("text-anchor","middle").attr("dominant-baseline","central").attr("fill","#000").style("font-family","'Liberation Sans',Arial,sans-serif").style("font-size","10px").text(d=>d);
</script></body></html>
